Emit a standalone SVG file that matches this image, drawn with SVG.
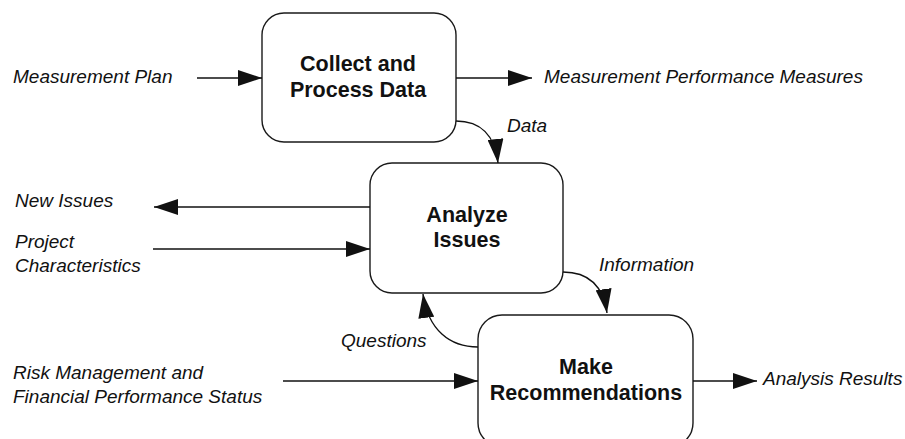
<svg xmlns="http://www.w3.org/2000/svg" width="905" height="439" viewBox="0 0 905 439">
  <style>
    .box { fill: #ffffff; stroke: #1a1a1a; stroke-width: 1.4; }
    .title { font-family: "Liberation Sans", Arial, sans-serif; font-weight: bold; font-size: 21.5px; fill: #111; text-anchor: middle; }
    .flow { font-family: "Liberation Sans", Arial, sans-serif; font-style: italic; font-size: 19px; fill: #111; }
    .link { fill: none; stroke: #111; stroke-width: 1.4; marker-end: url(#head); }
  </style>
  <defs>
    <marker id="head" viewBox="0 0 24 16" refX="24" refY="8" markerWidth="24" markerHeight="16" markerUnits="userSpaceOnUse" orient="auto">
      <path d="M0,0 L24,8 L0,16 z" fill="#111"/>
    </marker>
  </defs>
  <rect width="905" height="439" fill="#ffffff"/>

  <!-- process boxes -->
  <g id="collect">
    <rect class="box" x="262" y="13" width="194" height="129" rx="22" ry="22"/>
    <text class="title" x="358" y="71">Collect and</text>
    <text class="title" x="358" y="97">Process Data</text>
  </g>
  <g id="analyze">
    <rect class="box" x="370" y="163" width="193" height="130" rx="22" ry="22"/>
    <text class="title" x="467" y="222">Analyze</text>
    <text class="title" x="467" y="247">Issues</text>
  </g>
  <g id="recommend">
    <rect class="box" x="478" y="315" width="215" height="132" rx="24" ry="24"/>
    <text class="title" x="586" y="374">Make</text>
    <text class="title" x="586" y="400">Recommendations</text>
  </g>

  <!-- connectors -->
  <g id="connectors">
    <path class="link" d="M197,78 L262,78"/>
    <path class="link" d="M456,78 L532,78"/>
    <path class="link" d="M456,121 C480,121 495,135 498,163"/>
    <path class="link" d="M370,207 L154,207"/>
    <path class="link" d="M153,249 L370,249"/>
    <path class="link" d="M563,272 C587,272 603,285 607,313"/>
    <path class="link" d="M478,347 C450,347 428,330 423,294"/>
    <path class="link" d="M283,381 L478,381"/>
    <path class="link" d="M693,381 L757,381"/>
  </g>

  <!-- flow labels -->
  <g id="labels">
    <text class="flow" x="13" y="83">Measurement Plan</text>
    <text class="flow" x="544" y="83">Measurement Performance Measures</text>
    <text class="flow" x="507" y="132">Data</text>
    <text class="flow" x="15" y="207">New Issues</text>
    <text class="flow" x="15" y="248">Project</text>
    <text class="flow" x="15" y="272">Characteristics</text>
    <text class="flow" x="599" y="271">Information</text>
    <text class="flow" x="341" y="347">Questions</text>
    <text class="flow" x="13" y="379">Risk Management and</text>
    <text class="flow" x="13" y="403">Financial Performance Status</text>
    <text class="flow" x="763" y="385">Analysis Results</text>
  </g>
</svg>
